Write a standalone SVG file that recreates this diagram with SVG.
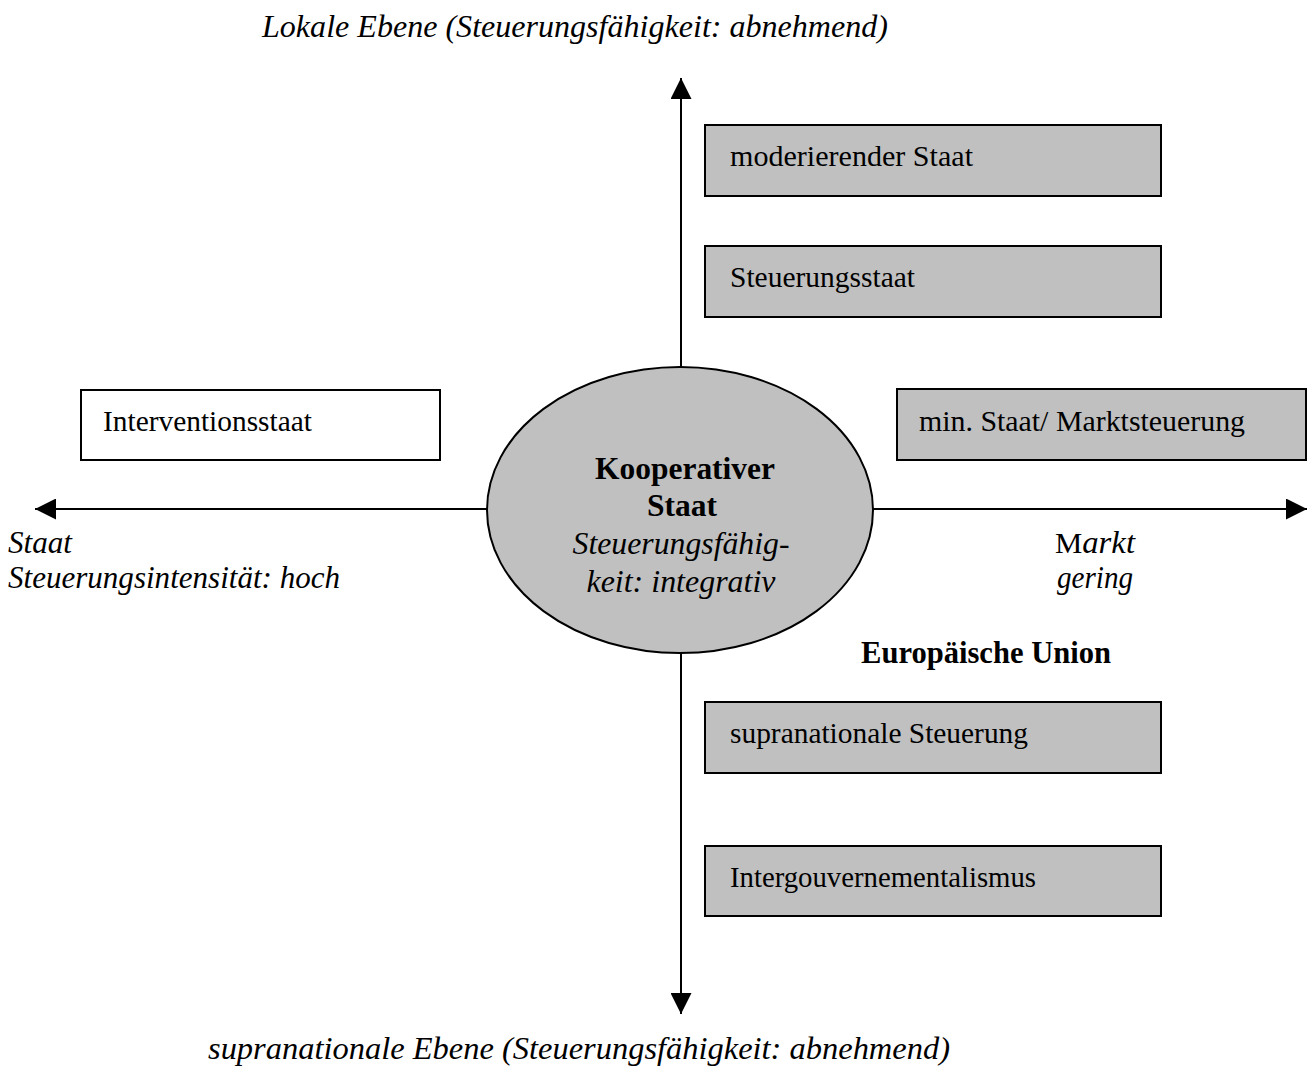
<svg xmlns="http://www.w3.org/2000/svg" width="1313" height="1075" viewBox="0 0 1313 1075">
<style>
text{font-family:"Liberation Serif","Times New Roman",serif;font-size:29.5px;fill:#000}
.it{font-style:italic;font-size:31.5px}
.b{font-weight:bold;font-size:31px}
.box{fill:#c0c0c0;stroke:#000;stroke-width:2}
.wbox{fill:#fff;stroke:#000;stroke-width:2}
.ax{stroke:#000;stroke-width:2;fill:none}
</style>
<defs>
<marker id="ah" viewBox="0 0 21 21" refX="21" refY="10.5" markerWidth="21" markerHeight="21" markerUnits="userSpaceOnUse" orient="auto">
<path d="M0,0 L21,10.5 L0,21 Z" fill="#000"/>
</marker>
</defs>
<g id="connectors">
<line class="ax" x1="681" y1="367" x2="681" y2="78" marker-end="url(#ah)"/>
<line class="ax" x1="681" y1="653" x2="681" y2="1014" marker-end="url(#ah)"/>
<line class="ax" x1="488" y1="509" x2="35" y2="509" marker-end="url(#ah)"/>
<line class="ax" x1="873" y1="509" x2="1307" y2="509" marker-end="url(#ah)"/>
</g>
<g id="center">
<ellipse cx="680" cy="510" rx="193" ry="143" class="box"/>
<text x="685" y="479" text-anchor="middle" class="b" textLength="180" lengthAdjust="spacingAndGlyphs">Kooperativer</text>
<text x="682" y="516" text-anchor="middle" class="b" textLength="70" lengthAdjust="spacingAndGlyphs">Staat</text>
<text x="681" y="554" text-anchor="middle" class="it" textLength="217" lengthAdjust="spacingAndGlyphs">Steuerungsfähig-</text>
<text x="681" y="592" text-anchor="middle" class="it" textLength="189" lengthAdjust="spacingAndGlyphs">keit: integrativ</text>
</g>
<g id="moderierend">
<rect x="705" y="125" width="456" height="71" class="box"/>
<text x="730" y="166" textLength="243" lengthAdjust="spacingAndGlyphs">moderierender Staat</text>
</g>
<g id="steuerungsstaat">
<rect x="705" y="246" width="456" height="71" class="box"/>
<text x="730" y="287" textLength="185" lengthAdjust="spacingAndGlyphs">Steuerungsstaat</text>
</g>
<g id="minstaat">
<rect x="897" y="389" width="409" height="71" class="box"/>
<text x="919" y="431" textLength="326" lengthAdjust="spacingAndGlyphs">min. Staat/ Marktsteuerung</text>
</g>
<g id="intervention">
<rect x="81" y="390" width="359" height="70" class="wbox"/>
<text x="103" y="431" textLength="209" lengthAdjust="spacingAndGlyphs">Interventionsstaat</text>
</g>
<g id="supranational">
<rect x="705" y="702" width="456" height="71" class="box"/>
<text x="730" y="743" textLength="298" lengthAdjust="spacingAndGlyphs">supranationale Steuerung</text>
</g>
<g id="intergouv">
<rect x="705" y="846" width="456" height="70" class="box"/>
<text x="730" y="887" textLength="306" lengthAdjust="spacingAndGlyphs">Intergouvernementalismus</text>
</g>
<g id="labels">
<text x="262" y="37" class="it" textLength="626" lengthAdjust="spacingAndGlyphs">Lokale Ebene (Steuerungsfähigkeit: abnehmend)</text>
<text x="208" y="1059" class="it" textLength="742" lengthAdjust="spacingAndGlyphs">supranationale Ebene (Steuerungsfähigkeit: abnehmend)</text>
<text x="8" y="553" class="it" textLength="64" lengthAdjust="spacingAndGlyphs">Staat</text>
<text x="8" y="588" class="it" textLength="332" lengthAdjust="spacingAndGlyphs">Steuerungsintensität: hoch</text>
<text x="1055" y="553" textLength="80" lengthAdjust="spacingAndGlyphs">M<tspan class="it">arkt</tspan></text>
<text x="1057" y="588" class="it" textLength="76" lengthAdjust="spacingAndGlyphs">gering</text>
<text x="861" y="663" class="b" textLength="250" lengthAdjust="spacingAndGlyphs">Europäische Union</text>
</g>
</svg>
